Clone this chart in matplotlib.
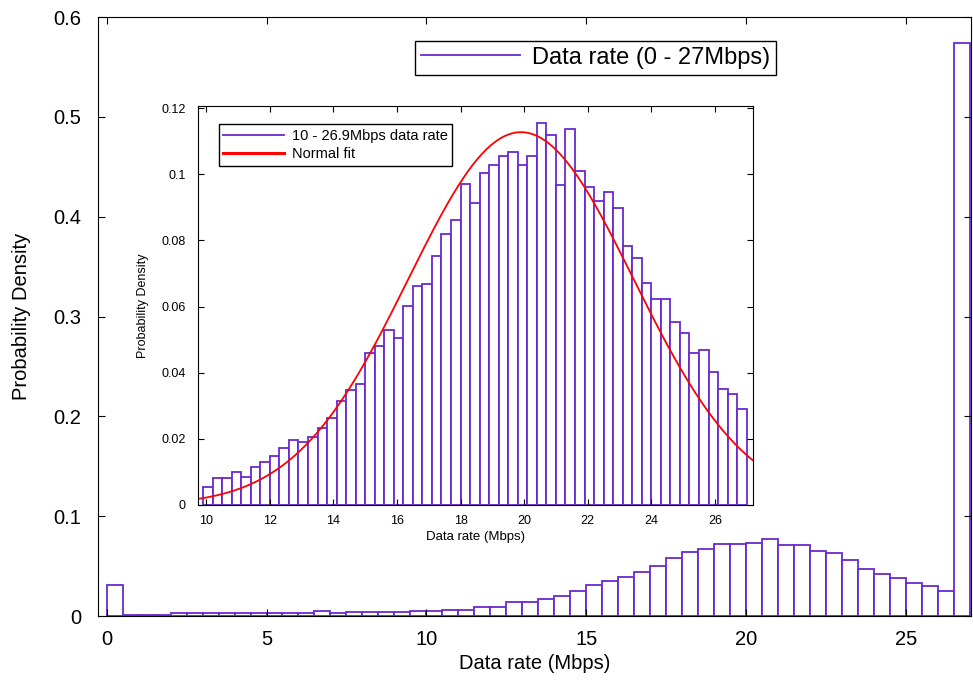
import numpy as np
import matplotlib.pyplot as plt
from matplotlib.lines import Line2D

plt.rcParams['font.family'] = ['Liberation Sans', 'DejaVu Sans']

# main histogram: 0 - 27 Mbps, bin width 0.5
main_edges = np.arange(0, 27.01, 0.5)
main_density = [0.031, 0.0013, 0.0007, 0.0007, 0.0027, 0.0027, 0.0027, 0.0027,
                0.0027, 0.003, 0.003, 0.003, 0.003, 0.0047, 0.0033, 0.0043,
                0.0043, 0.0043, 0.0043, 0.0047, 0.0047, 0.0063, 0.0063, 0.009,
                0.009, 0.014, 0.014, 0.0173, 0.0203, 0.0253, 0.0313, 0.0347,
                0.039, 0.044, 0.05, 0.058, 0.064, 0.0673, 0.0723, 0.0723,
                0.0733, 0.0767, 0.0707, 0.0707, 0.0647, 0.063, 0.0563, 0.0473,
                0.0423, 0.038, 0.0333, 0.03, 0.0253, 0.574]

# inset histogram: 10 - 26.9 Mbps, 57 bins
inset_edges = np.linspace(9.9, 27.0, 58)
inset_density = [0.0054, 0.0081, 0.0081, 0.0101, 0.0086, 0.0116, 0.0129, 0.0148,
                 0.0172, 0.0196, 0.0191, 0.0206, 0.0234, 0.0263, 0.0314, 0.0348,
                 0.0367, 0.0458, 0.0482, 0.0529, 0.0505, 0.0601, 0.0662, 0.0667,
                 0.0752, 0.0818, 0.0862, 0.097, 0.0914, 0.1003, 0.1027, 0.1056,
                 0.1066, 0.1027, 0.1056, 0.1155, 0.1118, 0.0967, 0.1136, 0.101,
                 0.0962, 0.0919, 0.0946, 0.0899, 0.0783, 0.0748, 0.0672, 0.0623,
                 0.0623, 0.0552, 0.052, 0.0458, 0.0468, 0.0401, 0.0351, 0.0335,
                 0.0291]

# normal fit parameters
fit_mu = 19.9
fit_sigma = 3.54

purple = '#6a2ad0'

fig = plt.figure(figsize=(9.73, 6.84), dpi=100)
ax = fig.add_axes([0.1007, 0.0994, 0.8972, 0.8757])
ax.bar(main_edges[:-1], main_density, width=np.diff(main_edges), align='edge',
       facecolor='white', edgecolor=purple, linewidth=1.3)
ax.set_xlim(-0.27, 27.03)
ax.set_ylim(0, 0.6)
ax.set_xticks([0, 5, 10, 15, 20, 25])
ax.set_yticks([0, 0.1, 0.2, 0.3, 0.4, 0.5, 0.6])
ax.set_yticklabels(['0', '0.1', '0.2', '0.3', '0.4', '0.5', '0.6'])
ax.tick_params(direction='in', top=True, right=True, labelsize=14.5, length=5)
ax.tick_params(axis='x', pad=10)
ax.tick_params(axis='y', pad=12)
ax.set_xlabel('Data rate (Mbps)', fontsize=14.5, labelpad=4)
ax.set_ylabel('Probability Density', fontsize=14.5, labelpad=16)
ax.legend([Line2D([], [], color=purple, lw=1.3)], ['Data rate (0 - 27Mbps)'],
          loc='upper left', bbox_to_anchor=(0.35, 0.98), fontsize=17,
          fancybox=False, edgecolor='black', framealpha=1, handlelength=4.2,
          handletextpad=0.5, borderpad=0.25)

ins = fig.add_axes([0.2035, 0.2617, 0.5704, 0.5833])
ins.bar(inset_edges[:-1], inset_density, width=np.diff(inset_edges), align='edge',
        facecolor='white', edgecolor=purple, linewidth=1.3)
xs = np.linspace(9.74, 27.2, 300)
pdf = np.exp(-(xs - fit_mu) ** 2 / (2 * fit_sigma ** 2)) / (fit_sigma * np.sqrt(2 * np.pi))
ins.plot(xs, pdf, color='red', lw=1.3)
ins.set_xlim(9.74, 27.2)
ins.set_ylim(0, 0.1206)
ins.set_xticks(range(10, 27, 2))
ins.set_yticks([0, 0.02, 0.04, 0.06, 0.08, 0.1, 0.12])
ins.set_yticklabels(['0', '0.02', '0.04', '0.06', '0.08', '0.1', '0.12'])
ins.tick_params(direction='in', top=True, right=True, labelsize=9, length=4)
ins.tick_params(axis='x', pad=7)
ins.tick_params(axis='y', pad=9)
ins.set_xlabel('Data rate (Mbps)', fontsize=9.5, labelpad=3)
ins.set_ylabel('Probability Density', fontsize=9, labelpad=9)
ins.legend([Line2D([], [], color=purple, lw=1.3), Line2D([], [], color='red', lw=2.2)],
           ['10 - 26.9Mbps data rate', 'Normal fit'],
           loc='upper left', bbox_to_anchor=(0.024, 0.972), fontsize=10.5,
           fancybox=False, edgecolor='black', framealpha=1, handlelength=4.2,
           handletextpad=0.5, borderpad=0.3, labelspacing=0.3)

fig.savefig('out.png', dpi=100)
